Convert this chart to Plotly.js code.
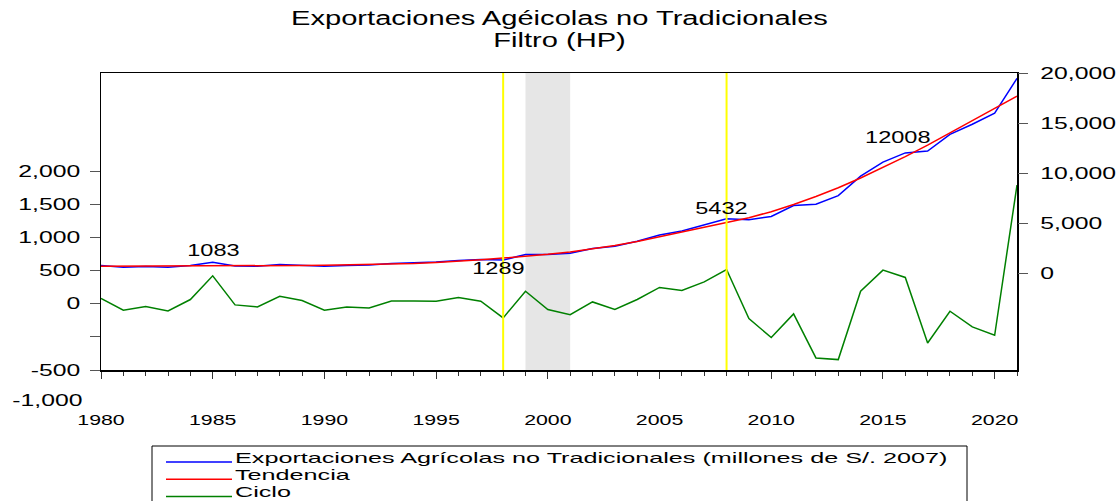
<!DOCTYPE html>
<html>
<head>
<meta charset="utf-8">
<script src="https://cdn.plot.ly/plotly-3.0.1.min.js"></script>
<style>
html,body{margin:0;padding:0;background:#ffffff;}
#chart{width:1119px;height:501px;}
</style>
</head>
<body>
<div id="chart"></div>
<script>
// ---------- data ----------
const years = [1980,1981,1982,1983,1984,1985,1986,1987,1988,1989,
               1990,1991,1992,1993,1994,1995,1996,1997,1998,1999,
               2000,2001,2002,2003,2004,2005,2006,2007,2008,2009,
               2010,2011,2012,2013,2014,2015,2016,2017,2018,2019,
               2020,2021];

const exportaciones = [760,580,640,580,760,1083,690,670,850,800,
                       680,760,790,940,1000,1100,1260,1360,1289,1860,
                       1840,1970,2440,2670,3180,3800,4200,4800,5432,5330,
                       5650,6740,6880,7740,9680,11090,12008,12200,13870,14880,
                       15990,19470];

const tendencia = [680,680,685,690,695,700,710,720,735,755,
                   780,810,850,900,960,1060,1170,1320,1490,1670,
                   1870,2110,2410,2740,3140,3610,4080,4540,5020,5530,
                   6130,6850,7650,8520,9500,10540,11640,12780,13980,15220,
                   16460,17680];

const ciclo = [79,-98,-42,-109,63,420,-18,-48,113,48,
               -98,-48,-63,42,42,38,94,38,-214,189,
               -88,-165,27,-88,63,245,199,329,516,-224,
               -510,-154,-818,-843,189,506,396,-592,-113,-350,
               -476,1789];

const seriesNames = ['Exportaciones Agrícolas no Tradicionales (millones de S/. 2007)', 'Tendencia', 'Ciclo'];

const leftTickVals  = [-1000, -500, 0, 500, 1000, 1500, 2000];
const leftTickText  = ['-500', '', '0', '500', '1,000', '1,500', '2,000'];
const leftExtraLabel = '-1,000';
const rightTickVals = [0, 5000, 10000, 15000, 20000];
const rightTickText = ['0', '5,000', '10,000', '15,000', '20,000'];

const markYears  = [1985, 1998, 2008, 2016];
const markLabels = ['1083', '1289', '5432', '12008'];

const eventLines = [1998, 2008];
const bandStart = 1999, bandEnd = 2001;

// ---------- styling ----------
const FONT = 'Liberation Sans, Arial, sans-serif';
const TEXT_STRETCH = 1.5;
const LEG_STRETCH = 1.68;
const LEG_X = 159, LEG_Y = 457, LEG_ROW = 17.3;

const markShift = {1985:[1,12], 1998:[-5,-8.5], 2008:[-5,10.5], 2016:[-7.5,15]};

const traces = [
  {x: years, y: exportaciones, name: seriesNames[0], type: 'scatter', mode: 'lines',
   yaxis: 'y2', line: {color: '#0000ff', width: 1.5}},
  {x: years, y: tendencia, name: seriesNames[1], type: 'scatter', mode: 'lines',
   yaxis: 'y2', line: {color: '#ff0000', width: 1.5}},
  {x: years, y: ciclo, name: seriesNames[2], type: 'scatter', mode: 'lines',
   yaxis: 'y', line: {color: '#008000', width: 1.5}}
];

const shapes = [
  {type: 'rect', xref: 'x', yref: 'paper', x0: bandStart, x1: bandEnd, y0: 0, y1: 1,
   fillcolor: '#e6e6e6', line: {width: 0}, layer: 'below'}
];
eventLines.forEach(yr => shapes.push({type: 'line', xref: 'x', yref: 'paper', x0: yr, x1: yr, y0: 0, y1: 1,
  line: {color: '#ffff00', width: 2}}));
// legend frame
shapes.push({type: 'rect', xref: 'paper', yref: 'paper',
  x0: (152-101)/916, x1: (967-101)/916, y0: (370-446)/297, y1: (370-530)/297,
  line: {color: '#000', width: 1}, fillcolor: 'rgba(0,0,0,0)'});

const annotations = markYears.map((yr, i) => ({
  x: yr, y: exportaciones[years.indexOf(yr)], xref: 'x', yref: 'y2',
  text: markLabels[i], showarrow: false, xshift: markShift[yr][0], yshift: markShift[yr][1],
  xanchor: 'center', yanchor: 'middle',
  font: {family: FONT, size: 15.7, color: '#000'}
}));
annotations.push({x: (47-101)/916, y: (370-400)/297, xref: 'paper', yref: 'paper',
  xanchor: 'center', yanchor: 'middle',
  text: leftExtraLabel, showarrow: false, font: {family: FONT, size: 16.5, color: '#000'}});

const layout = {
  width: 1119, height: 501,
  margin: {l: 101, r: 102, t: 73, b: 131, pad: 0, autoexpand: false},
  paper_bgcolor: '#ffffff', plot_bgcolor: '#ffffff',
  font: {family: FONT, size: 16, color: '#000'},
  title: {text: 'Exportaciones Agéicolas no Tradicionales<br>Filtro (HP)',
          x: 0.5, xref: 'container', xanchor: 'center',
          y: 0.951, yref: 'container', yanchor: 'top',
          font: {family: FONT, size: 19.4, color: '#000'}},
  showlegend: true,
  legend: {x: 0.1, y: 0.95, xanchor: 'left', yanchor: 'top', bgcolor: 'rgba(0,0,0,0)',
           borderwidth: 0, itemwidth: 66, font: {family: FONT, size: 15, color: '#000'}},
  xaxis: {range: [1980, 2021], tick0: 1980, dtick: 5, ticks: 'outside', ticklen: 7, tickwidth: 1,
          tickcolor: '#333', showline: true, linecolor: '#000', linewidth: 1.5, mirror: true,
          showgrid: false, zeroline: false, tickfont: {size: 14.2}, ticklabelstandoff: 29,
          minor: {dtick: 1, tick0: 1980, ticks: 'outside', ticklen: 4, tickwidth: 1, tickcolor: '#333', showgrid: false}},
  yaxis: {range: [-1000, 3480], tickmode: 'array', tickvals: leftTickVals, ticktext: leftTickText,
          ticks: 'outside', ticklen: 10, tickwidth: 1, tickcolor: '#555', showline: true, linecolor: '#000',
          linewidth: 1.5, mirror: true, showgrid: false, zeroline: false, tickfont: {size: 16.5},
          ticklabelstandoff: 6},
  yaxis2: {range: [-9700, 20000], overlaying: 'y', side: 'right', tickmode: 'array',
           tickvals: rightTickVals, ticktext: rightTickText, ticks: 'outside', ticklen: 10, tickwidth: 1,
           tickcolor: '#555', showline: false, showgrid: false, zeroline: false, tickfont: {size: 16.5},
           ticklabelstandoff: 9},
  shapes: shapes,
  annotations: annotations
};

const gd = document.getElementById('chart');
Plotly.newPlot(gd, traces, layout, {displayModeBar: false, staticPlot: true}).then(() => {
  const leg = gd.querySelector('g.legend');
  if (leg) {
    leg.setAttribute('transform', `translate(${LEG_X},${LEG_Y})`);
    leg.querySelectorAll('[clip-path]').forEach(e => e.removeAttribute('clip-path'));
    const sb = leg.querySelector('g.scrollbox');
    if (sb) sb.setAttribute('transform', 'translate(0,0)');
    leg.querySelectorAll('rect.scrollbar').forEach(r => r.style.display = 'none');
    leg.querySelectorAll('g.traces').forEach((g, i) => g.setAttribute('transform', `translate(0,${i * LEG_ROW})`));
    leg.querySelectorAll('g.legendlines path').forEach(p => p.setAttribute('d', 'M7,5h66'));
  }
  const tl = gd.querySelectorAll('.gtitle tspan.line');
  if (tl.length > 1) tl[1].setAttribute('dy', '1.15em');
  gd.querySelectorAll('text').forEach(t => {
    if (!t.textContent.trim()) return;
    const s = t.closest('g.legend') ? LEG_STRETCH : TEXT_STRETCH;
    const ax = parseFloat(t.getAttribute('x')) || 0;
    const tr = t.getAttribute('transform') || '';
    t.setAttribute('transform', `${tr} translate(${ax},0) scale(${s},1) translate(${-ax},0)`);
  });
});
</script>
</body>
</html>
